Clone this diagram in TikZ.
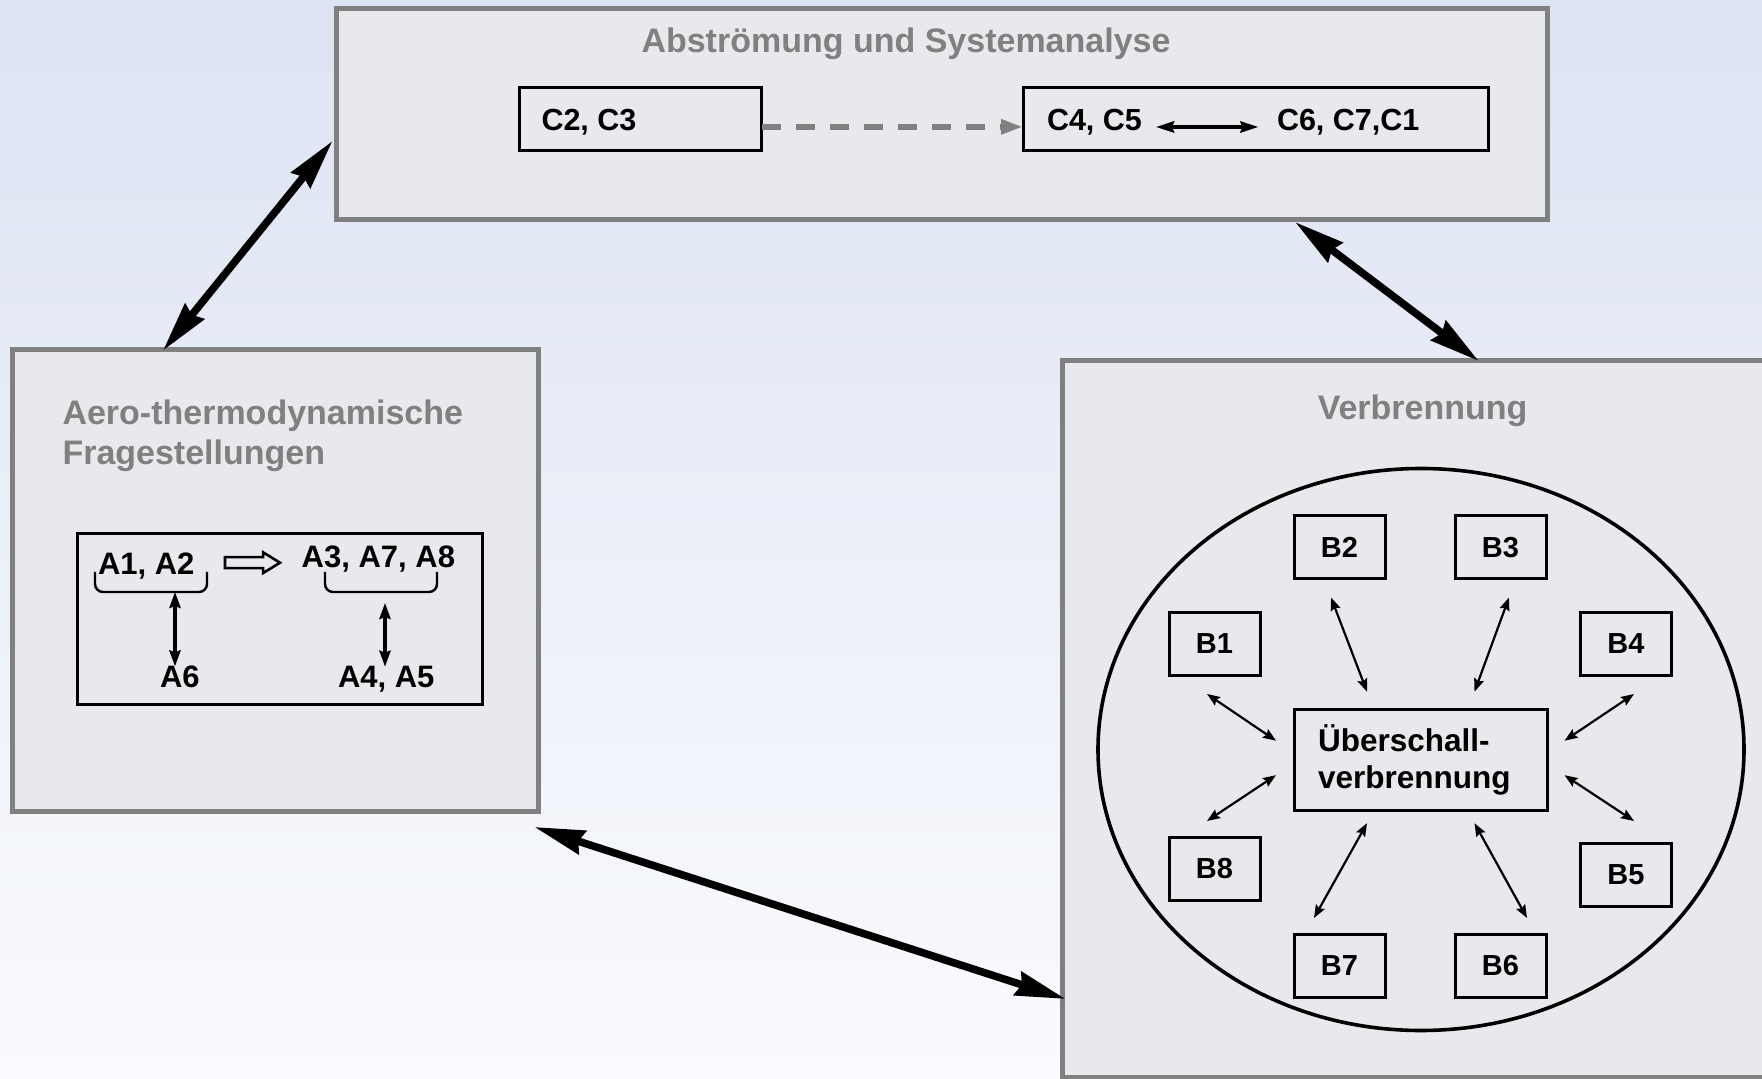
\documentclass[tikz,border=0pt]{standalone}
\usepackage{fontspec}
\setmainfont{Liberation Sans}
\usetikzlibrary{arrows.meta,calc,shapes.arrows}

\definecolor{c808080}{RGB}{128,128,128}
\definecolor{ce8e9ec}{RGB}{232,233,236}
\definecolor{cdce3f2}{RGB}{220,227,242}
\definecolor{cfafbfe}{RGB}{250,251,254}

\tikzset{
  panel/.style={draw=c808080, fill=ce8e9ec, line width=2.5pt, anchor=north west},
  paneltitle/.style={text=c808080, font=\fontsize{17pt}{20pt}\selectfont\bfseries},
  cbox/.style={draw=black, line width=1.5pt},
  ctext/.style={font=\fontsize{15.25pt}{18pt}\selectfont\bfseries, anchor=base west},
  atext/.style={font=\fontsize{15.5pt}{18pt}\selectfont\bfseries, anchor=base west},
  bbox/.style={draw=black, line width=1.5pt, minimum width=45.5pt, minimum height=31.5pt,
    font=\fontsize{14.5pt}{17pt}\selectfont\bfseries},
  bigarrow/.style={line width=3.8pt, >={Stealth[length=25pt,width=12pt,inset=2pt]}, <->},
  barrow/.style={line width=1.1pt, >={Stealth[length=6.5pt,width=5pt,inset=1pt]}, <->},
  aarrow/.style={line width=1.6pt, >={Stealth[length=8pt,width=5.6pt,inset=1pt]}, <->},
  carrow/.style={line width=2pt, >={Stealth[length=9pt,width=5.5pt,inset=1pt]}, <->},
  dasharrow/.style={draw=c808080, line width=3.3pt, dash pattern=on 9.5pt off 7.5pt,
    -{Triangle[length=11pt,width=7pt]}},
  abrace/.style={line width=1.2pt, rounded corners=4pt},
  implarrow/.style={single arrow, draw=black, line width=1.3pt, minimum height=27.5pt,
    inner xsep=0pt, inner ysep=2.1pt, single arrow head extend=2.4pt,
    single arrow tip angle=63}
}

\begin{document}
\begin{tikzpicture}[y=0.5pt, x=0.5pt, yscale=-1, inner sep=0pt, outer sep=0pt]

  \path[use as bounding box] (0,0) rectangle (1762,1079);
  \clip (0,0) rectangle (1762,1079);
  \path[top color=cdce3f2, bottom color=cfafbfe] (0,0) rectangle (1762,1079);

  % three panels
  \node[panel, minimum width=605.5pt, minimum height=105.5pt] (abstr) at (336.5,8.5) {};
  \node[panel, minimum width=262.75pt, minimum height=230.65pt] (aero) at (12.9,349.7) {};
  \node[panel, minimum width=360pt, minimum height=358.25pt] (verbr) at (1062.7,361) {};

  \path (906,53) node[paneltitle, anchor=base] (abstrtitle) {Abströmung und Systemanalyse};
  \path (62.5,425) node[paneltitle, anchor=base west] (aerotitle) {Aero-thermodynamische};
  \path (62.5,465) node[paneltitle, anchor=base west] (aerotitlb) {Fragestellungen};
  \path (1422.6,420) node[paneltitle, anchor=base] (verbrtitle) {Verbrennung};

  % Abstroemung und Systemanalyse
  \node[cbox, minimum width=121.25pt, minimum height=31.35pt] (c23box) at (640.25,119.35) {};
  \node[cbox, minimum width=232.75pt, minimum height=31.35pt] (c4box) at (1255.75,119.35) {};
  \path (541.5,131) node[ctext] (c23) {C2, C3};
  \path (1047,131) node[ctext] (c45) {C4, C5};
  \path (1277,131) node[ctext] (c671) {C6, C7,C1};
  \draw[dasharrow] ($(c23box.east)+(0,7.5)$) -- ($(c4box.west)+(0,7.5)$);
  \draw[carrow] ($(c45.base east)+(14,-4)$) -- ($(c671.base west)+(-18.5,-4)$);

  % Aero-thermodynamische Fragestellungen
  \node[cbox, minimum width=202.5pt, minimum height=85.5pt] (abox) at (279.9,619.5) {};
  \path (98,575) node[atext] (a12) {A1, A2};
  \path (301.7,568) node[atext] (a378) {A3, A7, A8};
  \path (160,688) node[atext] (a6) {A6};
  \path (338,688) node[atext] (a45) {A4, A5};
  \node[implarrow] (impl) at (248,562.7) {};
  \draw[abrace] (95,572) -- (95,592) -- (207,592) -- (207,572);
  \draw[abrace] (325,572) -- (325,592) -- (437,592) -- (437,572);
  \coordinate (br12) at (175,592);
  \coordinate (br378) at (385,603);
  \draw[aarrow] (br12) -- (br12 |- a6.north);
  \draw[aarrow] (br378) -- (br378 |- a45.north);

  % Verbrennung
  \draw[line width=1.8pt] (1421,749.5) ellipse (161.5pt and 140.5pt);
  \node[bbox, minimum width=126.5pt, minimum height=50.5pt, text width=102.5pt, align=left,
    font=\fontsize{15.75pt}{18.8pt}\selectfont\bfseries] (ueber) at (1420.5,759.7)
    {Überschall-\\verbrennung};
  \node[bbox] (b1) at (1214.5,644) {B1};
  \node[bbox] (b2) at (1339.5,547.5) {B2};
  \node[bbox] (b3) at (1500.5,547.5) {B3};
  \node[bbox] (b4) at (1626,644) {B4};
  \node[bbox] (b5) at (1626,875) {B5};
  \node[bbox] (b6) at (1500.5,965.5) {B6};
  \node[bbox] (b7) at (1339.5,965.5) {B7};
  \node[bbox] (b8) at (1214.5,869) {B8};
  \draw[barrow] ($(b2.south)+(-8.5,18.5)$) -- ($(ueber.north)+(-53.5,-17.5)$);
  \draw[barrow] ($(b3.south)+(8.5,18.5)$) -- ($(ueber.north)+(54,-17.5)$);
  \draw[barrow] ($(b1.south)+(-7.5,18.5)$) -- ($(ueber.west)+(-18,-19)$);
  \draw[barrow] ($(b4.south)+(8,18.5)$) -- ($(ueber.east)+(17.5,-19)$);
  \draw[barrow] ($(b8.north)+(-7.5,-16.5)$) -- ($(ueber.west)+(-18,15.5)$);
  \draw[barrow] ($(b5.north)+(8,-22.5)$) -- ($(ueber.east)+(17.5,15.5)$);
  \draw[barrow] ($(b7.north)+(-25.5,-16)$) -- ($(ueber.south)+(-53.5,13)$);
  \draw[barrow] ($(b6.north)+(26.5,-16)$) -- ($(ueber.south)+(54,13)$);

  % links between the panels
  \draw[bigarrow] ($(aero.north west)+(150,1)$) -- ($(abstr.north west)+(-4,132.5)$);
  \draw[bigarrow] ($(abstr.south east)+(-252.5,2.5)$) -- ($(verbr.north west)+(416,0)$);
  \draw[bigarrow] ($(aero.south east)+(-4,16)$) -- ($(verbr.south west)+(3,-78.5)$);

\end{tikzpicture}
\end{document}
